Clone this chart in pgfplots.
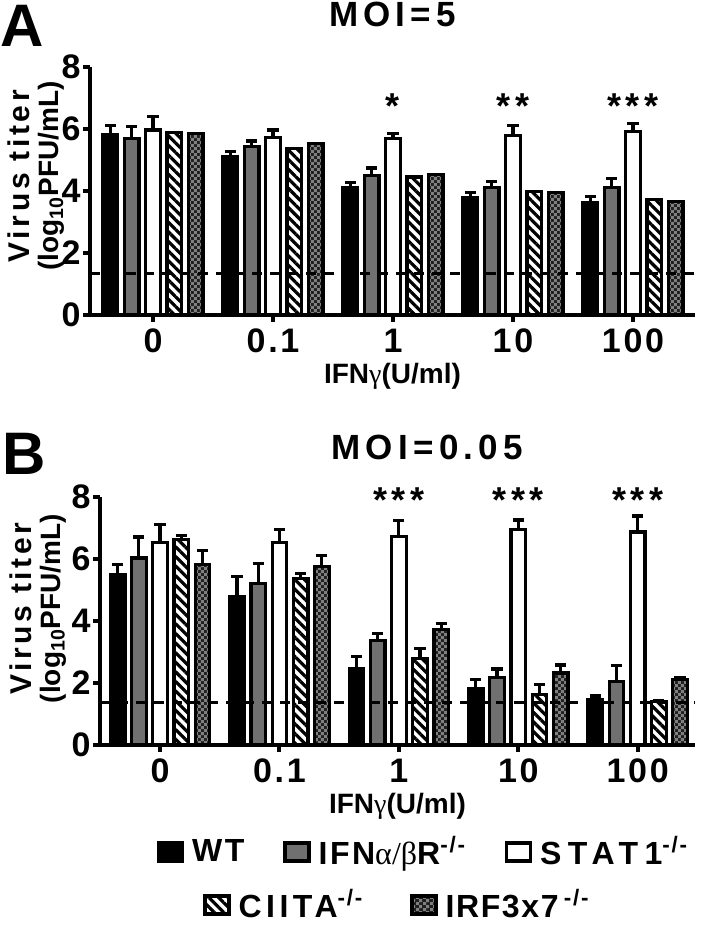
\documentclass[border=0pt]{standalone}
\usepackage{fontspec}
\setmainfont{Liberation Sans}
\newfontfamily\grk{Liberation Serif}
\usepackage{pgfplots}
\pgfplotsset{compat=1.18}
\usetikzlibrary{patterns.meta}

\pgfdeclarepattern{
  name=fcheck, type=uncolored,
  bottom left={\pgfpoint{0pt}{0pt}}, top right={\pgfpoint{3.2pt}{3.2pt}},
  tile size={\pgfpoint{3.2pt}{3.2pt}},
  code={\pgfpathrectangle{\pgfpointorigin}{\pgfpoint{1.6pt}{1.6pt}}
        \pgfpathrectangle{\pgfpoint{1.6pt}{1.6pt}}{\pgfpoint{1.6pt}{1.6pt}}
        \pgfusepath{fill}}}

\newcommand\tickfont{\fontsize{17}{17}\selectfont\bfseries\addfontfeature{LetterSpace=8}}
\newcommand\legfont{\fontsize{16}{16}\selectfont\bfseries\addfontfeature{LetterSpace=8}}
\newcommand\titfont{\fontsize{17.5}{17.5}\selectfont\bfseries\addfontfeature{LetterSpace=15}}
\newcommand\starfont{\fontsize{18}{18}\selectfont\bfseries\addfontfeature{LetterSpace=12}}
\newcommand\ko{\textsuperscript{-/-}}

\tikzset{
 wtS/.style={draw=black, line width=1.6pt, fill=black},
 ifnS/.style={draw=black, line width=1.6pt, fill=black!56},
 statS/.style={draw=black, line width=1.6pt, fill=white},
 ciS/.style={draw=black, line width=1.6pt, pattern={Lines[angle=-45,distance=3.4pt,line width=1.6pt]}},
 irfS/.style={draw=black, line width=1.6pt, preaction={fill=black!88}, pattern=fcheck, pattern color=black!50},
}

\pgfplotsset{
 bar/.style={ybar, bar width=7.35pt, bar shift=0pt},
 ebar/.style={ybar, bar width=7.35pt, bar shift=0pt,
   error bars/y dir=plus, error bars/y explicit,
   error bars/error bar style={line width=1.6pt, black, solid},
   error bars/error mark options={rotate=90, mark size=2.8pt, line width=1.6pt, black}},
 panel/.style={
   scale only axis, axis x line*=bottom, axis y line*=left,
   axis line style={line width=2pt},
   ymin=0, ymax=8, ytick={0,2,4,6,8},
   xtick={0,1,2,3,4}, xticklabels={0,0.1,1,10,100},
   tick align=outside, major tick length=3.5pt,
   every tick/.style={black, line width=2pt},
   /pgf/number format/assume math mode=true,
   ticklabel style={font=\tickfont},
   yticklabel style={inner sep=1pt},
   clip=false,
   ylabel={{\addfontfeature{LetterSpace=12}Virus titer}\\{\fontsize{14}{14}\selectfont(log\textsubscript{10}PFU/mL)}},
   every axis y label/.style={rotate=90, anchor=south, align=center, font=\fontsize{15}{14.5}\selectfont\bfseries},
   xlabel={IFN{\grk\mdseries γ}(U/ml)},
   every axis x label/.style={at={(axis description cs:0.5,0)}, anchor=north, yshift=-20.5pt, font=\fontsize{14}{14}\selectfont\bfseries},
   title style={font=\titfont, anchor=base},
 },
 legax/.style={scale only axis, width=10pt, height=10pt, hide axis, xmin=0, xmax=1, ymin=0, ymax=1,
   legend image code/.code={\draw[##1] (0pt,-4.5pt) rectangle (12pt,4.5pt);},
   legend cell align=left,
   legend style={draw=none, fill=none, at={(0.5,0.5)}, anchor=center, font=\legfont,
     nodes={inner sep=1.5pt},
     /tikz/every odd column/.append style={column sep=2.5pt}}},
}

\begin{document}
\begin{tikzpicture}
\useasboundingbox (0,0) rectangle (350pt,464.5pt);

\node[anchor=base west, font=\fontsize{30}{30}\selectfont\bfseries, inner sep=0pt] at (0pt,441pt) {A};
\node[anchor=base west, font=\fontsize{30}{30}\selectfont\bfseries, inner sep=0pt] at (1pt,227pt) {B};

% ---------- Panel A ----------
\begin{axis}[panel, at={(45pt,307pt)}, anchor=south west, width=302.5pt, height=124pt,
  xmin=-0.525, xmax=4.517,
  ylabel style={at={(axis description cs:-0.03,0.56)}},
  title={MOI=5}, title style={at={(axis description cs:0.5,1)}, yshift=14pt}]
\addplot[ebar, wtS] coordinates {(-0.355,5.82) +- (0,0.30) (0.645,5.11) +- (0,0.17) (1.645,4.12) +- (0,0.15) (2.645,3.79) +- (0,0.17) (3.645,3.64) +- (0,0.18)};
\addplot[ebar, ifnS] coordinates {(-0.1775,5.69) +- (0,0.39) (0.8225,5.44) +- (0,0.17) (1.8225,4.49) +- (0,0.25) (2.8225,4.11) +- (0,0.19) (3.8225,4.11) +- (0,0.28)};
\addplot[ebar, statS] coordinates {(0,5.97) +- (0,0.44) (1,5.72) +- (0,0.25) (2,5.70) +- (0,0.16) (3,5.78) +- (0,0.32) (4,5.93) +- (0,0.25)};
\addplot[bar, ciS] coordinates {(0.1775,5.89) (1.1775,5.38) (2.1775,4.45) (3.1775,3.99) (4.1775,3.73)};
\addplot[bar, irfS] coordinates {(0.355,5.85) (1.355,5.54) (2.355,4.54) (3.355,3.96) (4.355,3.66)};
\addplot[sharp plot, black, line width=1.6pt, dash pattern=on 5pt off 4pt] coordinates {(-0.525,1.35) (4.517,1.35)};
\node[font=\starfont] at (axis cs:2,6.75) {*};
\node[font=\starfont] at (axis cs:3,6.75) {**};
\node[font=\starfont] at (axis cs:4,6.75) {***};
\end{axis}

% ---------- Panel B ----------
\begin{axis}[panel, at={(50pt,92pt)}, anchor=south west, width=297.5pt, height=124pt,
  xmin=-0.503, xmax=4.48,
  ylabel style={at={(axis description cs:-0.045,0.55)}},
  title={MOI=0.05}, title style={at={(axis description cs:0.55,1)}, yshift=12.5pt}]
\addplot[ebar, wtS] coordinates {(-0.355,5.51) +- (0,0.32) (0.645,4.80) +- (0,0.64) (1.645,2.46) +- (0,0.39) (2.645,1.82) +- (0,0.30) (3.645,1.45) +- (0,0.13)};
\addplot[ebar, ifnS] coordinates {(-0.1775,6.03) +- (0,0.68) (0.8225,5.22) +- (0,0.63) (1.8225,3.37) +- (0,0.23) (2.8225,2.18) +- (0,0.27) (3.8225,2.06) +- (0,0.50)};
\addplot[ebar, statS] coordinates {(0,6.54) +- (0,0.58) (1,6.53) +- (0,0.42) (2,6.72) +- (0,0.51) (3,6.94) +- (0,0.32) (4,6.87) +- (0,0.52)};
\addplot[ebar, ciS] coordinates {(0.1775,6.63) +- (0,0.12) (1.1775,5.37) +- (0,0.16) (2.1775,2.80) +- (0,0.30) (3.1775,1.63) +- (0,0.33) (4.1775,1.40) +- (0,0.03)};
\addplot[ebar, irfS] coordinates {(0.355,5.83) +- (0,0.44) (1.355,5.76) +- (0,0.35) (2.355,3.72) +- (0,0.20) (3.355,2.32) +- (0,0.26) (4.355,2.12) +- (0,0.06)};
\addplot[sharp plot, black, line width=1.6pt, dash pattern=on 5pt off 4pt] coordinates {(-0.503,1.37) (4.48,1.37)};
\node[font=\starfont] at (axis cs:2,7.9) {***};
\node[font=\starfont] at (axis cs:3,7.9) {***};
\node[font=\starfont] at (axis cs:4,7.9) {***};
\end{axis}

% ---------- Legend row 1 ----------
\begin{axis}[legax, at={(212pt,38.5pt)}, anchor=center, legend columns=3,
  legend style={/tikz/every even column/.append style={column sep=18pt}}]
\addlegendimage{wtS}
\addlegendimage{ifnS}
\addlegendimage{statS}
\legend{WT, IFN{\grk\mdseries α/β}R\ko, {\addfontfeature{LetterSpace=20}STAT1}\ko}
\end{axis}

% ---------- Legend row 2 ----------
\begin{axis}[legax, at={(199pt,12pt)}, anchor=center, legend columns=2,
  legend style={/tikz/every even column/.append style={column sep=22pt}}]
\addlegendimage{ciS}
\addlegendimage{irfS}
\legend{{\addfontfeature{LetterSpace=14}CIITA}\ko, {\addfontfeature{LetterSpace=5}IRF3x7}\,\ko}
\end{axis}
\end{tikzpicture}
\end{document}
